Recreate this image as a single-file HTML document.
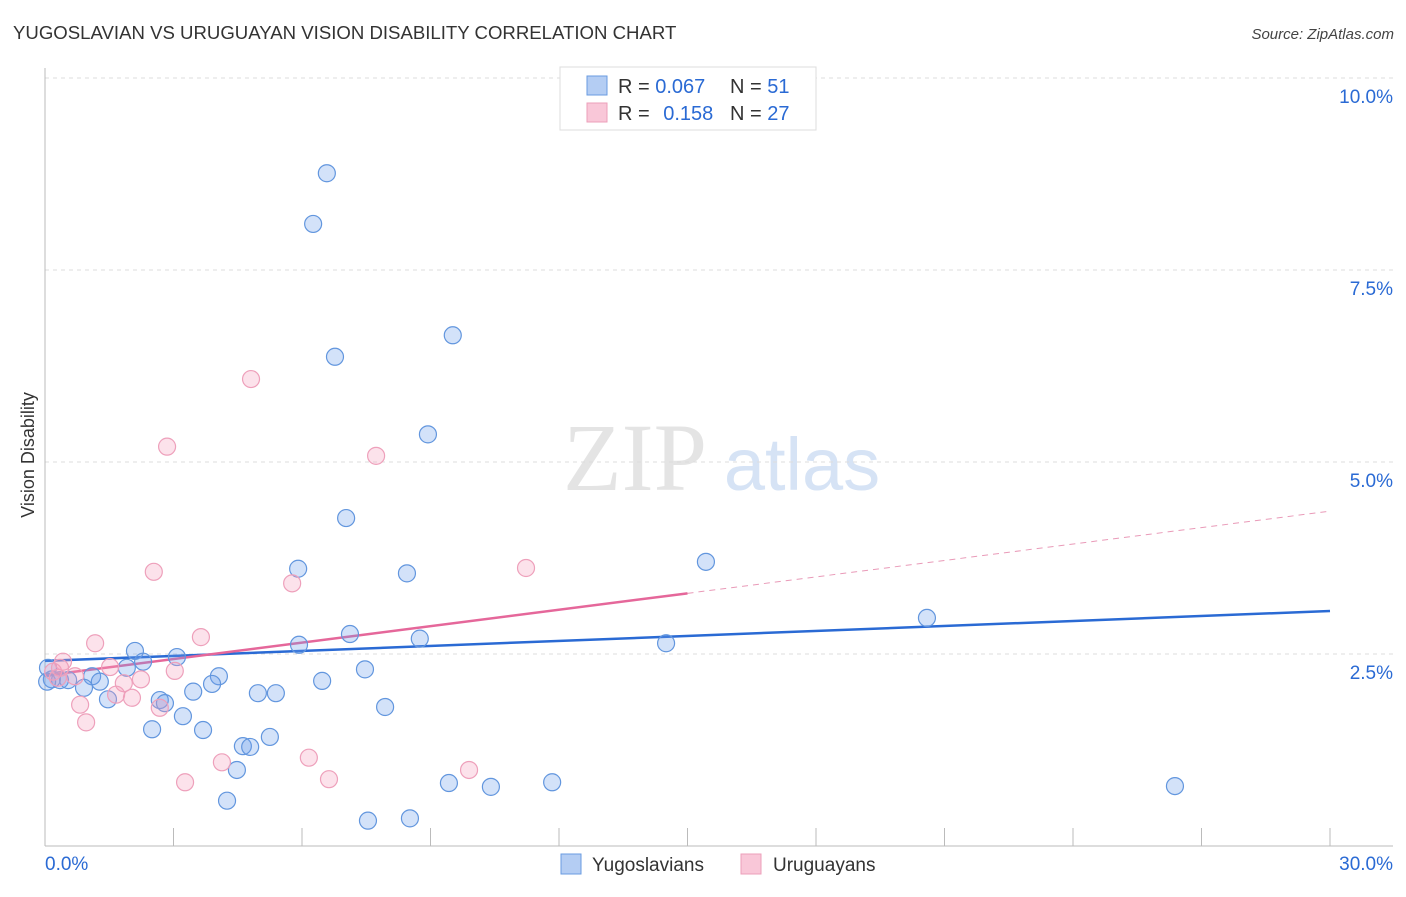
<!DOCTYPE html>
<html><head><meta charset="utf-8"><style>
body{margin:0;background:#fff;font-family:"Liberation Sans",sans-serif}
</style></head><body>
<svg id="chart" width="1406" height="892" xmlns="http://www.w3.org/2000/svg" font-family="Liberation Sans, sans-serif">
<text x="13" y="39" font-size="18.6" fill="#333">YUGOSLAVIAN VS URUGUAYAN VISION DISABILITY CORRELATION CHART</text>
<text x="1394" y="39" font-size="15" fill="#444" font-style="italic" text-anchor="end">Source: ZipAtlas.com</text>
<g>
<text x="635" y="490" font-size="96" font-family="Liberation Serif, serif" fill="#e4e4e4" text-anchor="middle">ZIP</text>
<text x="802" y="490" font-size="74" fill="#d6e3f5" text-anchor="middle">atlas</text>
</g>
<text transform="translate(34,455) rotate(-90)" font-size="18" fill="#333" text-anchor="middle">Vision Disability</text>
<g id="grid"></g><g id="axes"></g><g id="lines"></g><g id="points"></g>
<g>
<rect x="560" y="67" width="256" height="63" fill="#fff" stroke="#ddd"/>
<rect x="587" y="76" width="20" height="19" fill="#b4cdf3" stroke="#6a9be0"/>
<rect x="587" y="103" width="20" height="19" fill="#f9c7d8" stroke="#ec9fba"/>
<text x="618" y="93" font-size="20" fill="#333">R = <tspan fill="#2a6ad4">0.067</tspan><tspan x="730">N = </tspan><tspan fill="#2a6ad4">51</tspan></text>
<text x="618" y="120" font-size="20" fill="#333">R = <tspan fill="#2a6ad4" dx="8">0.158</tspan><tspan x="730">N = </tspan><tspan fill="#2a6ad4">27</tspan></text>
</g>
<g>
<rect x="561" y="854" width="20" height="20" fill="#b4cdf3" stroke="#6a9be0"/>
<text x="592" y="871" font-size="19" fill="#333">Yugoslavians</text>
<rect x="741" y="854" width="20" height="20" fill="#f9c7d8" stroke="#ec9fba"/>
<text x="773" y="871" font-size="19" fill="#333">Uruguayans</text>
</g>
</svg>
<script>
const yTicks=[2.5,5,7.5,10];
const yTickLabels=["2.5%","5.0%","7.5%","10.0%"];
const xTickVals=[0,3,6,9,12,15,18,21,24,27,30];
const xLabels=["0.0%","30.0%"];
const blueX=[6.58,6.26,6.77,9.52,8.94,7.03,5.91,8.45,15.43,20.59,14.50,7.12,8.75,5.93,2.10,2.29,3.08,1.10,1.28,1.91,4.06,3.90,6.47,7.47,0.16,0.35,0.54,0.07,0.05,0.91,1.47,2.68,2.80,3.46,4.97,5.39,3.22,2.50,3.69,7.94,4.62,4.79,5.25,4.48,4.25,9.43,10.41,11.84,26.38,7.54,8.52];
const blueY=[8.76,8.10,6.37,6.65,5.36,4.27,3.61,3.55,3.70,2.97,2.64,2.76,2.70,2.62,2.54,2.40,2.46,2.21,2.14,2.32,2.21,2.11,2.15,2.30,2.17,2.16,2.16,2.32,2.14,2.06,1.91,1.90,1.86,2.01,1.99,1.99,1.69,1.52,1.51,1.81,1.30,1.29,1.42,0.99,0.59,0.82,0.77,0.83,0.78,0.33,0.36];
const pinkX=[4.81,2.85,7.73,2.54,5.77,11.23,1.17,3.64,0.42,1.52,3.03,2.24,1.84,0.19,0.30,0.70,0.82,0.96,1.66,2.03,2.68,6.16,6.63,4.13,3.27,9.90,0.35];
const pinkY=[6.08,5.20,5.08,3.57,3.42,3.62,2.64,2.72,2.40,2.33,2.28,2.17,2.12,2.27,2.19,2.21,1.84,1.61,1.97,1.93,1.80,1.15,0.87,1.09,0.83,0.99,2.32];
const blueTrend=[[0,2.41],[30,3.06]];
const pinkTrend=[[0,2.22],[15,3.29],[30,4.36]];
const NS="http://www.w3.org/2000/svg";
const X=v=>45+v/30*1285, Y=v=>846-v*76.8;
function mk(t,a,p){const e=document.createElementNS(NS,t);for(const k in a)e.setAttribute(k,a[k]);document.getElementById(p).appendChild(e);return e;}
yTicks.forEach((t,i)=>{
 const g=mk('line',{x1:45,x2:1393,y1:Y(t),y2:Y(t),stroke:'#ddd','stroke-dasharray':'4,4'},'grid');
 
 
 const l=mk('text',{x:1393,y:Y(t)+25,'font-size':19,fill:'#2a6ad4','text-anchor':'end'},'grid');
 l.textContent=yTickLabels[i];
 
 
});
const ax=mk('line',{x1:45,x2:1393,y1:846,y2:846,stroke:'#bbb'},'axes');


const ay=mk('line',{x1:45,x2:45,y1:68,y2:846,stroke:'#bbb'},'axes');


xTickVals.forEach(v=>{const t=mk('line',{x1:X(v),x2:X(v),y1:828,y2:846,stroke:'#bbb'},'axes');
 
 });
[[0,'start',xLabels[0]],[30,'end',xLabels[1]]].forEach(([v,a,s])=>{const t=mk('text',{x:X(v)+(v?63:0),y:870,'font-size':19,fill:'#2a6ad4','text-anchor':a},'axes');t.textContent=s;
 
 });
function pts(xs,ys,fill,stroke,name){xs.forEach((x,i)=>{const c=mk('circle',{cx:X(x),cy:Y(ys[i]),r:8.5,fill:fill,stroke:stroke,'stroke-width':1.2},'points');
 
 });}
pts(blueX,blueY,'rgba(110,160,235,0.3)','#6296de','yugoslavian-point');
pts(pinkX,pinkY,'rgba(245,160,190,0.3)','#eea0bb','uruguayan-point');
const bl=mk('line',{x1:X(blueTrend[0][0]),y1:Y(blueTrend[0][1]),x2:X(blueTrend[1][0]),y2:Y(blueTrend[1][1]),stroke:'#2a6ad4','stroke-width':2.5},'lines');


const pl=mk('line',{x1:X(pinkTrend[0][0]),y1:Y(pinkTrend[0][1]),x2:X(pinkTrend[1][0]),y2:Y(pinkTrend[1][1]),stroke:'#e5679a','stroke-width':2.5},'lines');


const pd=mk('line',{x1:X(pinkTrend[1][0]),y1:Y(pinkTrend[1][1]),x2:X(pinkTrend[2][0]),y2:Y(pinkTrend[2][1]),stroke:'#e99ab8','stroke-width':1,'stroke-dasharray':'6,5'},'lines');


</script>
</body></html>
